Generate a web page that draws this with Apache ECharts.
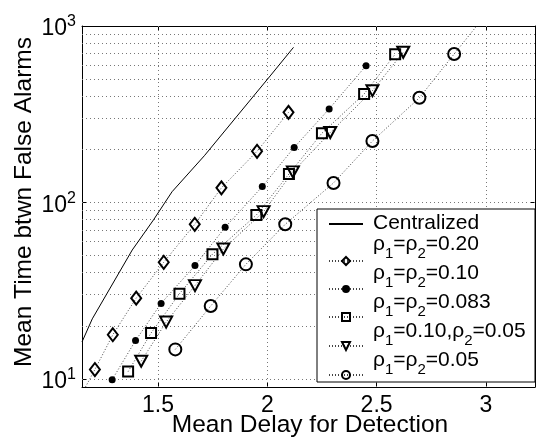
<!DOCTYPE html>
<html><head><meta charset="utf-8">
<script src="https://cdn.jsdelivr.net/npm/echarts@6/dist/echarts.min.js"></script>
<style>html,body{margin:0;padding:0;background:#fff}#c{width:539px;height:438px}</style>
</head><body><div id="c"></div>
<script>
// ---- axis ticks / grid ----
const xTickValues = [1.5, 2, 2.5, 3];
const xTickLabels = ['1.5', '2', '2.5', '3'];
const yTickValues = [10, 100, 1000];
const yTickExponents = ['1', '2', '3'];
const yGridValues = [10, 20, 30, 40, 50, 60, 70, 80, 90, 100, 200, 300, 400, 500, 600, 700, 800, 900];

// ---- series / legend labels (segments: [text, isSubscript]) ----
const seriesNames = ['Centralized', 'r020', 'r010', 'r083', 'r010_005', 'r005'];
const legendLabels = [
  [['Centralized', false]],
  [['ρ', false], ['1', true], ['=ρ', false], ['2', true], ['=0.20', false]],
  [['ρ', false], ['1', true], ['=ρ', false], ['2', true], ['=0.10', false]],
  [['ρ', false], ['1', true], ['=ρ', false], ['2', true], ['=0.083', false]],
  [['ρ', false], ['1', true], ['=0.10,ρ', false], ['2', true], ['=0.05', false]],
  [['ρ', false], ['1', true], ['=ρ', false], ['2', true], ['=0.05', false]]
];

// ---- data ----
const centralX = [1.152, 1.199, 1.382, 1.479, 1.564, 1.712, 2.013, 2.120];
const centralY = [16.2, 21.9, 53.8, 79.6, 115, 184, 521, 757];

const diamondX = [1.211, 1.293, 1.400, 1.526, 1.668, 1.790, 1.953, 2.097];
const diamondY = [11.3, 17.8, 28.7, 45.8, 75.2, 121, 195, 324];
const diamondTailX = [1.168];
const diamondTailY = [9.0];

const dotX = [1.290, 1.397, 1.514, 1.669, 1.807, 1.977, 2.123, 2.283, 2.452];
const dotY = [9.9, 16.5, 26.8, 43.9, 72.3, 123, 205, 339, 596];

const squareX = [1.363, 1.468, 1.598, 1.749, 1.950, 2.099, 2.250, 2.443, 2.585];
const squareY = [11.0, 18.2, 30.4, 50.9, 84.9, 145, 247, 412, 691];

const triX = [1.423, 1.537, 1.669, 1.799, 1.983, 2.117, 2.288, 2.481, 2.622];
const triY = [12.6, 21.0, 33.8, 54.5, 88.7, 149, 249, 430, 710];

const circX = [1.579, 1.741, 1.902, 2.082, 2.303, 2.481, 2.696, 2.855];
const circY = [14.7, 25.9, 44.6, 75.2, 129, 223, 392, 694];
const circHeadX = [2.958];
const circHeadY = [1000];

const FONT = 'Liberation Sans, Arial, Helvetica, sans-serif';
function pts(xs, ys) { return xs.map((x, i) => [x, ys[i]]); }
function hidden(xs, ys) { return xs.map((x, i) => ({ value: [x, ys[i]], symbol: 'none' })); }

// ---- legend label text elements (laid out with measured widths) ----
const measureCtx = document.createElement('canvas').getContext('2d');
function textWidth(t, size) { measureCtx.font = size + 'px "Liberation Sans"'; return measureCtx.measureText(t).width; }
const LEG_TEXT_X = 373, LEG_ROW0 = 223, LEG_PITCH = 29, MAIN_SIZE = 21, SUB_SIZE = 15;
const legendTextEls = [];
legendLabels.forEach(function (segs, row) {
  const cy = LEG_ROW0 + LEG_PITCH * row;
  const hasSub = segs.some(s => s[1]);
  let x = LEG_TEXT_X;
  segs.forEach(function (s) {
    const size = s[1] ? SUB_SIZE : MAIN_SIZE;
    const y = s[1] ? cy + 2 : (hasSub ? cy - 8 : cy);
    legendTextEls.push({
      type: 'text', z: 20, x: x, y: y, silent: true,
      style: { text: s[0], fontSize: size, fontFamily: FONT, fill: '#000',
               align: 'left', verticalAlign: 'middle', textAlign: 'left', textVerticalAlign: 'middle' }
    });
    x += textWidth(s[0], size);
  });
});

const dotLine = { color: '#444', width: 1, type: [1, 2] };
const hollow = { color: 'rgba(0,0,0,0)', borderColor: '#000', borderWidth: 2 };

function markerSeries(name, data, symbol, size, itemStyle, extra) {
  return Object.assign({
    name: name, type: 'line', data: data, symbol: symbol, symbolSize: size,
    itemStyle: itemStyle, lineStyle: dotLine, z: 3, animation: false, silent: true,
    emphasis: { disabled: true }
  }, extra || {});
}

const chart = echarts.init(document.getElementById('c'), null, { renderer: 'canvas' });
const axisCommonX = {
  type: 'value', min: 1.152, max: 3.225,
  axisLine: { show: true, onZero: false, lineStyle: { color: '#000', width: 1 } },
  axisTick: { show: true, inside: true, length: 5, lineStyle: { color: '#000' } },
  splitLine: { show: false }
};
const axisCommonY = {
  type: 'log', logBase: 10, min: 9, max: 1000,
  axisLine: { show: true, onZero: false, lineStyle: { color: '#000', width: 1 } },
  axisTick: { show: true, inside: true, length: 5, lineStyle: { color: '#000' } },
  splitLine: { show: false }
};
const legendCommon = {
  orient: 'vertical', left: 328, padding: 0, itemGap: 19, z: 20,
  itemWidth: 34, itemHeight: 10, selectedMode: false,
  formatter: function () { return ''; },
  textStyle: { fontSize: 1, lineHeight: 1 }
};

const option = {
  backgroundColor: '#fff',
  animation: false,
  grid: { left: 82, right: 4, top: 26, bottom: 51, containLabel: false },
  xAxis: [
    Object.assign({}, axisCommonX, {
      position: 'bottom',
      axisLabel: {
        margin: 7, color: '#000', fontSize: 23, fontFamily: FONT,
        formatter: function (v) {
          for (let i = 0; i < xTickValues.length; i++) if (Math.abs(v - xTickValues[i]) < 1e-6) return xTickLabels[i];
          return '';
        }
      }
    }),
    Object.assign({}, axisCommonX, { position: 'top', axisLabel: { show: false } })
  ],
  yAxis: [
    Object.assign({}, axisCommonY, {
      position: 'left',
      axisLabel: {
        margin: 6, color: '#000', fontFamily: FONT,
        formatter: function (v) {
          for (let i = 0; i < yTickValues.length; i++) if (Math.abs(v - yTickValues[i]) < 1e-6 * yTickValues[i]) return '{b|10}{s|' + yTickExponents[i] + '}';
          return '';
        },
        rich: {
          b: { fontSize: 23, lineHeight: 24, padding: [6, 0, 0, 0], fontFamily: FONT, color: '#000' },
          s: { fontSize: 16, lineHeight: 16, verticalAlign: 'top', fontFamily: FONT, color: '#000' }
        }
      }
    }),
    Object.assign({}, axisCommonY, { position: 'right', axisLabel: { show: false } })
  ],
  legend: [
    Object.assign({}, legendCommon, {
      top: 220,
      data: [{ name: seriesNames[0], itemStyle: { color: 'rgba(0,0,0,0)', borderWidth: 0 } }]
    }),
    Object.assign({}, legendCommon, {
      top: 256,
      data: seriesNames.slice(1)
    })
  ],
  graphic: [
    { type: 'rect', z: 10, shape: { x: 317, y: 209, width: 218, height: 173 },
      style: { fill: '#fff', stroke: '#000', lineWidth: 1 }, silent: true },
    { type: 'text', z: 20, x: 310, y: 425,
      style: { text: 'Mean Delay for Detection', fontSize: 24.5, fontFamily: FONT, fill: '#000',
               align: 'center', verticalAlign: 'middle', textAlign: 'center', textVerticalAlign: 'middle' } },
    { type: 'text', z: 20, x: 24, y: 202, rotation: Math.PI / 2,
      style: { text: 'Mean Time btwn False Alarms', fontSize: 24.5, fontFamily: FONT, fill: '#000',
               align: 'center', verticalAlign: 'middle', textAlign: 'center', textVerticalAlign: 'middle' } }
  ].concat(legendTextEls),
  series: [
    {
      name: seriesNames[0], type: 'line', data: pts(centralX, centralY), symbol: 'none',
      lineStyle: { color: '#000', width: 1, type: 'solid' }, itemStyle: { color: '#000' },
      z: 2, animation: false, silent: true, emphasis: { disabled: true },
      markLine: {
        silent: true, z: 1, symbol: ['none', 'none'], label: { show: false }, animation: false,
        emphasis: { disabled: true },
        lineStyle: { color: '#777', width: 1, type: [1, 3] },
        data: xTickValues.map(v => ({ xAxis: v })).concat(yGridValues.map(v => ({ yAxis: v })))
      }
    },
    markerSeries(seriesNames[1], hidden(diamondTailX, diamondTailY).concat(pts(diamondX, diamondY)), 'diamond', [10, 13], hollow),
    markerSeries(seriesNames[2], pts(dotX, dotY), 'circle', 7, { color: '#000', borderColor: '#000', borderWidth: 0 }),
    markerSeries(seriesNames[3], pts(squareX, squareY), 'rect', 10, hollow),
    markerSeries(seriesNames[4], pts(triX, triY), 'triangle', [12, 11], hollow, { symbolRotate: 180 }),
    markerSeries(seriesNames[5], pts(circX, circY).concat(hidden(circHeadX, circHeadY)), 'circle', 12, hollow)
  ]
};
chart.setOption(option);
</script>
</body></html>
